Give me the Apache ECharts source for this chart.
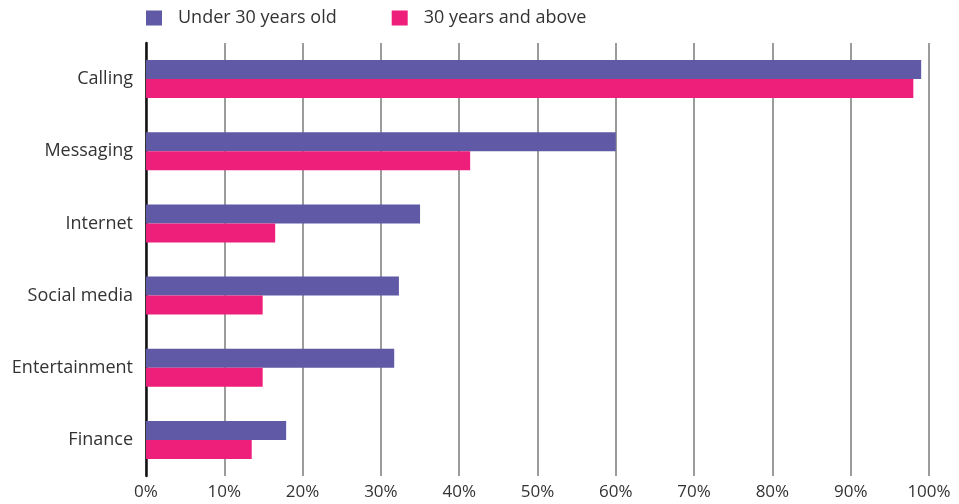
<!DOCTYPE html>
<html>
<head>
<meta charset="utf-8">
<script src="https://cdn.jsdelivr.net/npm/echarts@6/dist/echarts.min.js"></script>
<style>
  html, body { margin: 0; padding: 0; background: #fff; }
  #chart { width: 959px; height: 504px; }
</style>
</head>
<body>
<div id="chart"></div>
<script>
// Share of phone usage by activity, split by age group (%)
const categories = ['Calling', 'Messaging', 'Internet', 'Social media', 'Entertainment', 'Finance'];
const under30 = [99, 60, 35, 32.3, 31.7, 17.9];
const over30 = [98, 41.4, 16.5, 14.9, 14.9, 13.5];
const seriesNames = ['Under 30 years old', '30 years and above'];
const xTicks = [0, 10, 20, 30, 40, 50, 60, 70, 80, 90, 100];

const FONT = '"Open Sans", Lato, sans-serif';
const chart = echarts.init(document.getElementById('chart'), null, { renderer: 'canvas' });

chart.setOption({
  animation: false,
  color: ['#5f59a6', '#ee1f7b'],
  textStyle: { fontFamily: FONT },
  legend: {
    left: 146,
    top: 9,
    padding: 0,
    itemWidth: 16,
    itemHeight: 15,
    itemGap: 55,
    icon: 'rect',
    textStyle: { fontSize: 18, color: '#333', fontFamily: FONT, padding: [0, 0, 0, 11] },
    data: seriesNames
  },
  grid: { left: 146, right: 30, top: 43, bottom: 28, containLabel: false },
  xAxis: {
    type: 'value',
    min: xTicks[0],
    max: xTicks[xTicks.length - 1],
    interval: 10,
    axisLine: { show: false },
    axisTick: { show: false },
    axisLabel: {
      fontSize: 17, color: '#333', fontFamily: FONT, margin: 8,
      formatter: v => v + '%'
    },
    splitLine: { show: true, lineStyle: { color: '#7a7a7a', width: 1.5 } }
  },
  yAxis: {
    type: 'category',
    inverse: true,
    data: categories,
    axisLine: { show: true, lineStyle: { color: '#111', width: 2.5 } },
    axisTick: { show: false },
    axisLabel: { fontSize: 18, color: '#333', fontFamily: FONT, margin: 13, padding: [7, 0, 0, 0] }
  },
  series: [
    { name: seriesNames[0], type: 'bar', data: under30, barWidth: 19, barGap: '0%' },
    { name: seriesNames[1], type: 'bar', data: over30, barWidth: 19, barGap: '0%' }
  ]
});
</script>
</body>
</html>
